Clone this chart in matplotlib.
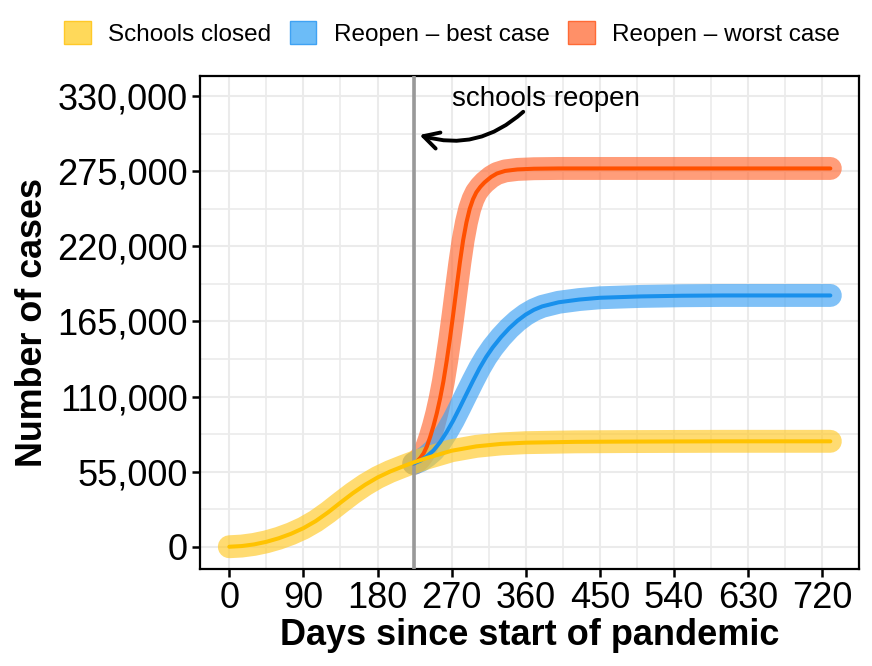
import matplotlib
matplotlib.use("Agg")
import matplotlib.pyplot as plt
from matplotlib.patches import Patch
from matplotlib.ticker import FuncFormatter, MultipleLocator

plt.rcParams['font.family'] = ['Liberation Sans', 'DejaVu Sans']

# ---- data ----
closed_days = [0, 15, 30, 45, 60, 75, 90, 105, 120, 135, 150, 165, 180, 195, 210, 224,
               240, 270, 300, 330, 360, 420, 480, 540, 600, 660, 730]
closed_cases = [0, 500, 1700, 3600, 6200, 9500, 13600, 18800, 25200, 32300, 39200, 45400,
                50700, 55000, 58600, 61800, 65000, 70300, 73500, 75300, 76200, 76800,
                77000, 77100, 77200, 77200, 77200]

best_days = [224, 232, 240, 248, 256, 264, 272, 280, 288, 296, 304, 312, 320, 330, 340,
             350, 360, 370, 380, 400, 425, 450, 500, 550, 600, 730]
best_cases = [61000, 63000, 66300, 70500, 76500, 84000, 92500, 102000, 111800, 121500,
              130800, 139000, 146000, 153500, 160000, 165500, 170000, 173500, 176000,
              179000, 181000, 182300, 183300, 183800, 184000, 184000]

worst_days = [224, 228, 232, 236, 240, 244, 248, 252, 256, 260, 264, 268, 272, 276, 280,
              284, 288, 292, 296, 300, 305, 310, 318, 325, 335, 350, 370, 400, 450, 500,
              600, 730]
worst_cases = [61000, 62500, 65000, 68400, 73500, 80500, 88500, 97700, 108500, 121000,
               136000, 152500, 170500, 189500, 208000, 224500, 237500, 247500, 254500,
               259500, 263600, 266800, 270800, 273300, 275200, 276300, 276800, 277000,
               277000, 277000, 277000, 277000]

series_labels = ["Schools closed", "Reopen \u2013 best case", "Reopen \u2013 worst case"]
reopen_day = 224
x_ticks = [0, 90, 180, 270, 360, 450, 540, 630, 720]
y_ticks = [0, 55000, 110000, 165000, 220000, 275000, 330000]
annot_text = "schools reopen"

# ---- styling ----
band_colors = ['#FFC928', '#3FA2F3', '#FF6A35']
line_colors = ['#FFC300', '#1890EC', '#FF5000']
key_colors = ['#FFD95A', '#6CBCF7', '#FF9068']

fig = plt.figure(figsize=(8.72, 6.66), dpi=100)
ax = fig.add_axes([200/872, 1-569/666, 659/872, 493/666])

ax.set_xlim(-35.6, 764.8)
ax.set_ylim(-16300, 344700)

ax.set_xticks(x_ticks)
ax.set_yticks(y_ticks)
ax.xaxis.set_minor_locator(MultipleLocator(45))
ax.yaxis.set_minor_locator(MultipleLocator(27500))
ax.grid(which='major', color='#EBEBEB', lw=1.5, zorder=0)
ax.grid(which='minor', color='#EBEBEB', lw=1.2, zorder=0)
ax.set_axisbelow(True)
ax.tick_params(which='minor', length=0)
ax.tick_params(which='major', length=6, width=1.8, labelsize=26, pad=3, color='black')
ax.yaxis.set_major_formatter(FuncFormatter(lambda v, p: f"{int(v):,}"))
for s in ax.spines.values():
    s.set_linewidth(1.6)
    s.set_color('black')

data = [(closed_days, closed_cases), (best_days, best_cases), (worst_days, worst_cases)]
order = [2, 1, 0]
for i in order:
    d, c = data[i]
    ax.plot(d, c, color=band_colors[i], lw=16.5, alpha=0.66, solid_capstyle='round',
            solid_joinstyle='round', zorder=2)

ax.axvline(reopen_day, color='#999999', lw=2.6, zorder=3)

for i in order:
    d, c = data[i]
    ax.plot(d, c, color=line_colors[i], lw=2.9, solid_capstyle='round',
            solid_joinstyle='round', zorder=4)

ax.set_xlabel("Days since start of pandemic", fontsize=26, fontweight='bold', labelpad=1)
ax.set_ylabel("Number of cases", fontsize=25.8, fontweight='bold', labelpad=5)

# annotation
ax.text(384.6, 327500, annot_text, fontsize=20, ha='center', va='center', zorder=6)
ax.annotate('', xy=(reopen_day + 7, 301500), xytext=(357, 318500),
            arrowprops=dict(arrowstyle='->,head_length=1.1,head_width=0.6', lw=2.8,
                            color='black', connectionstyle='arc3,rad=-0.28',
                            shrinkA=0, shrinkB=0), zorder=6)

handles = [Patch(facecolor=key_colors[i], edgecolor=band_colors[i], lw=1.0, label=series_labels[i])
           for i in range(3)]
fig.legend(handles=handles, loc='center', bbox_to_anchor=(452/872, 1-33.5/666), ncol=3,
           frameon=False, fontsize=17.5, handlelength=1.1, handleheight=1.1,
           handletextpad=0.72, columnspacing=0.75, borderaxespad=0)

fig.savefig("out.png", dpi=100)
